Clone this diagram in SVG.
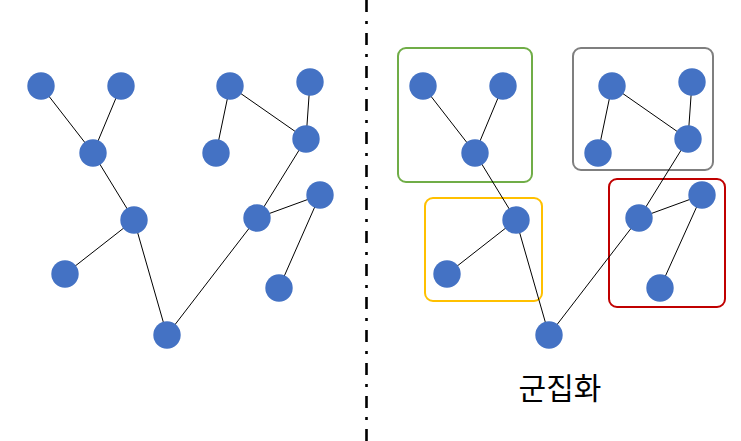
<svg xmlns="http://www.w3.org/2000/svg" width="741" height="441" viewBox="0 0 741 441">
<style>
.n{fill:#4472C4}
.e line{stroke:#000;stroke-width:1}
.box{fill:none;stroke-width:2}
.sep{stroke:#000;stroke-width:2.6;stroke-dasharray:12 9 3 9}
.lbl{font-family:"Noto Sans CJK KR","Noto Sans",sans-serif;font-size:30px;fill:#000}
</style>
<rect width="741" height="441" fill="#fff"/>
<line class="sep" x1="366.5" y1="0" x2="366.5" y2="441"/>
<g id="clusters">
<rect id="cluster-green" class="box" x="398" y="48" width="134" height="134" rx="8" stroke="#70AD47"/>
<rect id="cluster-gray" class="box" x="573" y="48" width="140" height="122" rx="8" stroke="#7F7F7F"/>
<rect id="cluster-yellow" class="box" x="425" y="198" width="117" height="103" rx="8" stroke="#FFC000"/>
<rect id="cluster-red" class="box" x="609" y="179" width="116" height="128" rx="8" stroke="#C00000"/>
</g>
<g id="connectors" class="e">
<line x1="41" y1="86" x2="93" y2="153"/>
<line x1="121" y1="86" x2="93" y2="153"/>
<line x1="93" y1="153" x2="134" y2="220"/>
<line x1="134" y1="220" x2="65" y2="274"/>
<line x1="134" y1="220" x2="167" y2="335"/>
<line x1="167" y1="335" x2="257" y2="218"/>
<line x1="257" y1="218" x2="306" y2="139"/>
<line x1="257" y1="218" x2="320" y2="195"/>
<line x1="320" y1="195" x2="279" y2="288"/>
<line x1="306" y1="139" x2="310" y2="82"/>
<line x1="306" y1="139" x2="230" y2="86"/>
<line x1="230" y1="86" x2="216" y2="153"/>
<line x1="423" y1="86" x2="475" y2="153"/>
<line x1="503" y1="86" x2="475" y2="153"/>
<line x1="475" y1="153" x2="516" y2="220"/>
<line x1="516" y1="220" x2="447" y2="274"/>
<line x1="516" y1="220" x2="549" y2="335"/>
<line x1="549" y1="335" x2="639" y2="218"/>
<line x1="639" y1="218" x2="688" y2="139"/>
<line x1="639" y1="218" x2="702" y2="195"/>
<line x1="702" y1="195" x2="660" y2="288"/>
<line x1="688" y1="139" x2="692" y2="82"/>
<line x1="688" y1="139" x2="612" y2="86"/>
<line x1="612" y1="86" x2="598" y2="153"/>
</g>
<g id="n1"><circle class="n" cx="41" cy="86" r="13.7"/></g>
<g id="n2"><circle class="n" cx="121" cy="86" r="13.7"/></g>
<g id="n3"><circle class="n" cx="93" cy="153" r="13.7"/></g>
<g id="n4"><circle class="n" cx="134" cy="220" r="13.7"/></g>
<g id="n5"><circle class="n" cx="65" cy="274" r="13.7"/></g>
<g id="n6"><circle class="n" cx="167" cy="335" r="13.7"/></g>
<g id="n7"><circle class="n" cx="230" cy="86" r="13.7"/></g>
<g id="n8"><circle class="n" cx="310" cy="82" r="13.7"/></g>
<g id="n9"><circle class="n" cx="216" cy="153" r="13.7"/></g>
<g id="n10"><circle class="n" cx="306" cy="139" r="13.7"/></g>
<g id="n11"><circle class="n" cx="257" cy="218" r="13.7"/></g>
<g id="n12"><circle class="n" cx="320" cy="195" r="13.7"/></g>
<g id="n13"><circle class="n" cx="279" cy="288" r="13.7"/></g>
<g id="m1"><circle class="n" cx="423" cy="86" r="13.7"/></g>
<g id="m2"><circle class="n" cx="503" cy="86" r="13.7"/></g>
<g id="m3"><circle class="n" cx="475" cy="153" r="13.7"/></g>
<g id="m4"><circle class="n" cx="516" cy="220" r="13.7"/></g>
<g id="m5"><circle class="n" cx="447" cy="274" r="13.7"/></g>
<g id="m6"><circle class="n" cx="549" cy="335" r="13.7"/></g>
<g id="m7"><circle class="n" cx="612" cy="86" r="13.7"/></g>
<g id="m8"><circle class="n" cx="692" cy="82" r="13.7"/></g>
<g id="m9"><circle class="n" cx="598" cy="153" r="13.7"/></g>
<g id="m10"><circle class="n" cx="688" cy="139" r="13.7"/></g>
<g id="m11"><circle class="n" cx="639" cy="218" r="13.7"/></g>
<g id="m12"><circle class="n" cx="702" cy="195" r="13.7"/></g>
<g id="m13"><circle class="n" cx="660" cy="288" r="13.7"/></g>
<text class="lbl" x="560" y="399" text-anchor="middle">군집화</text>
</svg>
